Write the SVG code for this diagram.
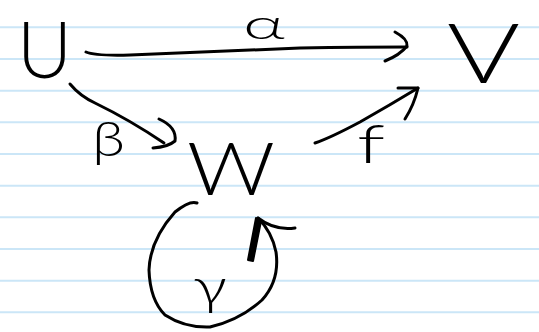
<svg xmlns="http://www.w3.org/2000/svg" width="539" height="332" viewBox="0 0 539 332">
<style>
.rule{stroke:#cbe6f7;stroke-width:2}
.ink{fill:none;stroke:#000;stroke-width:3;stroke-linecap:round;stroke-linejoin:round}
.lbl{font-family:Lato,"DejaVu Sans",sans-serif;font-weight:300;fill:#000}
</style>
<rect width="539" height="332" fill="#fff"/>
<g id="paper">
<line class="rule" x1="0" y1="27.3" x2="539" y2="27.3"/>
<line class="rule" x1="0" y1="59" x2="539" y2="59"/>
<line class="rule" x1="0" y1="90.7" x2="539" y2="90.7"/>
<line class="rule" x1="0" y1="122.3" x2="539" y2="122.3"/>
<line class="rule" x1="0" y1="154" x2="539" y2="154"/>
<line class="rule" x1="0" y1="185.7" x2="539" y2="185.7"/>
<line class="rule" x1="0" y1="217.3" x2="539" y2="217.3"/>
<line class="rule" x1="0" y1="249" x2="539" y2="249"/>
<line class="rule" x1="0" y1="280.7" x2="539" y2="280.7"/>
<line class="rule" x1="0" y1="312.3" x2="539" y2="312.3"/>
</g>
<g id="node-U"><text class="lbl" x="17" y="78" font-size="78" textLength="55" lengthAdjust="spacingAndGlyphs">U</text></g>
<g id="node-V"><text class="lbl" x="447" y="83" font-size="82" textLength="73" lengthAdjust="spacingAndGlyphs">V</text></g>
<g id="node-W"><text class="lbl" x="187" y="195" font-size="72" textLength="88" lengthAdjust="spacingAndGlyphs">W</text></g>
<g id="connectors">
<g id="edge-alpha">
<path class="ink" d="M86,52 Q95,56 130,55 Q250,50 300,48 Q360,47 407,47"/>
<path class="ink" d="M395,32 Q408,39 407,46 Q400,55 385,61"/>
<text class="lbl" x="243" y="39" font-size="41" textLength="42" lengthAdjust="spacingAndGlyphs">α</text>
</g>
<g id="edge-beta">
<path class="ink" d="M70,84 Q80,96 95,103 Q130,120 164,143"/>
<path class="ink" d="M159,119 Q177,127 175,141 Q168,147 153,148"/>
<text class="lbl" x="92" y="156" font-size="48" textLength="33" lengthAdjust="spacingAndGlyphs">β</text>
</g>
<g id="edge-f">
<path class="ink" d="M315,143 Q330,138 360,122 Q390,105 418,88"/>
<path class="ink" d="M398,88 L418,88 Q414,105 405,119"/>
<text class="lbl" x="357" y="163" font-size="54" textLength="28" lengthAdjust="spacingAndGlyphs">f</text>
</g>
<g id="edge-gamma">
<path class="ink" d="M197,203 Q190,200 175,212 Q150,240 149,270 Q150,300 165,315 Q185,328 210,327 Q240,320 262,300 Q280,280 276,252 Q272,232 258,218"/>
<path class="ink" d="M258,218 Q275,231 295,228"/>
<path d="M256,218 L261,221 L253,261 L248,260 Z" fill="#000" stroke="#000" stroke-width="2" stroke-linejoin="round"/>
<text class="lbl" x="193" y="304" font-size="52" textLength="34" lengthAdjust="spacingAndGlyphs">γ</text>
</g>
</g>
</svg>
